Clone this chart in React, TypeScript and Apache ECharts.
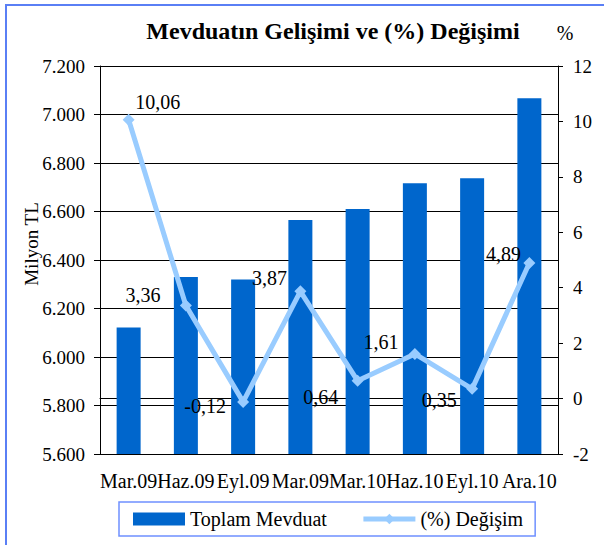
import React, { useEffect, useRef } from "react";
import * as echarts from "echarts";

const categories = ["Mar.09", "Haz.09", "Eyl.09", "Mar.09", "Mar.10", "Haz.10", "Eyl.10", "Ara.10"];
const totalDeposits = [6122, 6330, 6320, 6565, 6610, 6717, 6737, 7067];
const changePct = [10.06, 3.36, -0.12, 3.87, 0.64, 1.61, 0.35, 4.89];
const leftTicks = { min: 5600, max: 7200, step: 200 };
const rightTicks = { min: -2, max: 12, step: 2 };
const labelOffsets: [number, number][] = [
  [29, -18], [-43, -10], [-38, 4], [-31, -13], [-37, 16], [-34, -12], [-33, 11], [-26, -9],
];

const FONT = "Liberation Serif";

export default function App() {
  const ref = useRef<HTMLDivElement>(null);
  useEffect(() => {
    document.body.style.margin = "0";
    const chart = echarts.init(ref.current!, null, { renderer: "svg" });
    chart.setOption({
      animation: false,
      backgroundColor: "#fff",
      textStyle: { fontFamily: FONT },
      grid: { left: 100, right: 46, top: 66, bottom: 91 },
      graphic: [
        {
          type: "rect",
          shape: { x: 6, y: 5, width: 1000, height: 1000 },
          style: { fill: "none", stroke: "#5A7FF5", lineWidth: 2 },
          silent: true,
        },
        {
          type: "text",
          x: 333,
          y: 31,
          style: {
            text: "Mevduatın Gelişimi ve (%) Değişimi",
            font: `bold 24px ${FONT}`,
            fill: "#000",
            align: "center",
            verticalAlign: "middle",
            textAlign: "center",
            textVerticalAlign: "middle",
          },
        },
        {
          type: "text",
          x: 565,
          y: 33,
          style: {
            text: "%",
            font: `20px ${FONT}`,
            fill: "#000",
            align: "center",
            verticalAlign: "middle",
            textAlign: "center",
            textVerticalAlign: "middle",
          },
        },
        {
          type: "text",
          x: 31,
          y: 244,
          rotation: Math.PI / 2,
          style: {
            text: "Milyon TL",
            font: `19px ${FONT}`,
            fill: "#000",
            align: "center",
            verticalAlign: "middle",
            textAlign: "center",
            textVerticalAlign: "middle",
          },
        },
      ],
      legend: {
        left: 119,
        top: 502,
        padding: [7, 12, 7, 14],
        borderColor: "#6F90FF",
        borderWidth: 1.5,
        itemGap: 34,
        itemWidth: 52,
        itemHeight: 13,
        textStyle: { fontSize: 20, color: "#000", fontFamily: FONT },
        data: [
          { name: "Toplam Mevduat", icon: "rect" },
          { name: "(%) Değişim", lineStyle: { width: 5, color: "#99CCFF" } },
        ],
      },
      xAxis: {
        type: "category",
        data: categories,
        axisLine: { lineStyle: { color: "#000", width: 1 } },
        axisTick: { length: 5, lineStyle: { color: "#000" } },
        axisLabel: { interval: 0, fontSize: 20, color: "#000", margin: 17, fontFamily: FONT },
      },
      yAxis: [
        {
          type: "value",
          min: leftTicks.min,
          max: leftTicks.max,
          interval: leftTicks.step,
          axisLine: { show: true, lineStyle: { color: "#000", width: 1 } },
          axisTick: { show: true, length: 6, lineStyle: { color: "#000" } },
          splitLine: { show: true, lineStyle: { color: "#000", width: 1 } },
          axisLabel: {
            fontSize: 19,
            color: "#000",
            margin: 15,
            fontFamily: FONT,
            formatter: (v: number) => String(v).replace(/\B(?=(\d{3})+(?!\d))/g, "."),
          },
        },
        {
          type: "value",
          position: "right",
          min: rightTicks.min,
          max: rightTicks.max,
          interval: rightTicks.step,
          axisLine: { show: true, lineStyle: { color: "#000", width: 1 } },
          axisTick: { show: true, length: 5, lineStyle: { color: "#000" } },
          splitLine: { show: false },
          axisLabel: { fontSize: 19, color: "#000", margin: 15, fontFamily: FONT },
        },
      ],
      series: [
        {
          name: "Toplam Mevduat",
          type: "bar",
          yAxisIndex: 0,
          barWidth: 24,
          itemStyle: { color: "#0066CC" },
          data: totalDeposits,
          z: 2,
        },
        {
          name: "(%) Değişim",
          type: "line",
          yAxisIndex: 1,
          symbol: "diamond",
          symbolSize: 12,
          lineStyle: { color: "#99CCFF", width: 5 },
          itemStyle: { color: "#99CCFF" },
          z: 3,
          data: changePct.map((v, i) => ({
            value: v,
            label: {
              show: true,
              position: "inside",
              offset: labelOffsets[i],
              fontSize: 20,
              color: "#000",
              fontFamily: FONT,
              formatter: (p: any) => Number(p.value).toFixed(2).replace(".", ","),
            },
          })),
        },
      ],
    });
    return () => chart.dispose();
  }, []);
  return (
    <div
      ref={ref}
      style={{ position: "absolute", left: 0, top: 0, width: 604, height: 545 }}
    />
  );
}
